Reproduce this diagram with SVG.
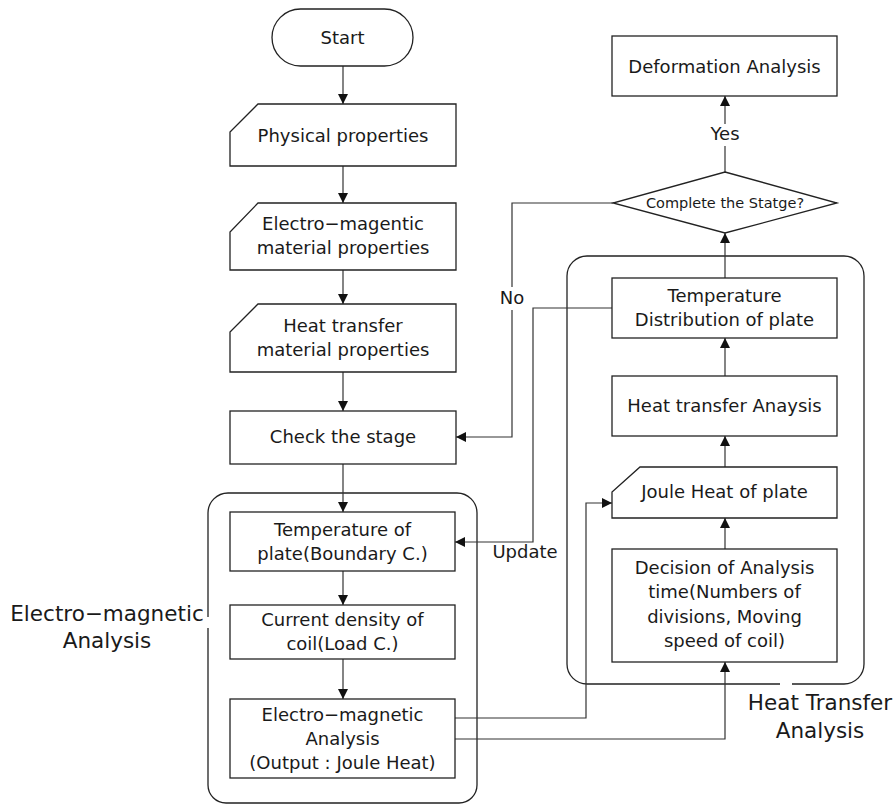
<svg xmlns="http://www.w3.org/2000/svg" width="896" height="805" viewBox="0 0 896 805">
<defs>
<marker id="ah" markerUnits="userSpaceOnUse" markerWidth="10" markerHeight="10" refX="10" refY="5" orient="auto">
<path d="M0,0 L10,5 L0,10 Z" fill="#111"/>
</marker>
<style>
.box{fill:#fff;stroke:#222;stroke-width:1.3}
.grp{fill:none;stroke:#222;stroke-width:1.3}
.ln{fill:none;stroke:#333;stroke-width:1.2}
.arr{marker-end:url(#ah)}
text{font-family:"DejaVu Sans","Liberation Sans",sans-serif;fill:#1a1a1a;text-anchor:middle}
.t{font-size:18px}
.lbl{font-size:21.5px}
.sm{font-size:14.5px}
</style>
</defs>
<rect width="896" height="805" fill="#fff"/>

<g id="group-em">
<path class="grp" d="M208,628 V785 A18,18 0 0 0 226,803 H459 A18,18 0 0 0 477,785 V513 A20,20 0 0 0 457,493 H228 A20,20 0 0 0 208,513 V617"/>
<text class="lbl" x="107" y="621">Electro−magnetic</text>
<text class="lbl" x="107" y="648">Analysis</text>
</g>
<g id="group-heat">
<path class="grp" d="M780,684 H587 A20,20 0 0 1 567,664 V276 A20,20 0 0 1 587,256 H844 A20,20 0 0 1 864,276 V664 A20,20 0 0 1 844,684 H792"/>
<text class="lbl" x="820" y="710">Heat Transfer</text>
<text class="lbl" x="820" y="738">Analysis</text>
</g>

<g id="connectors">
<path class="ln arr" d="M343,66 V104"/>
<path class="ln arr" d="M343,166 V203"/>
<path class="ln arr" d="M343,270 V304"/>
<path class="ln arr" d="M343,372 V411"/>
<path class="ln arr" d="M343,464 V512"/>
<path class="ln arr" d="M343,571 V605"/>
<path class="ln arr" d="M343,659 V699"/>
<path class="ln arr" d="M455,718 H586 V503 H612"/>
<path class="ln arr" d="M455,739 H725 V662"/>
<path class="ln arr" d="M725,549 V518"/>
<path class="ln arr" d="M725,467 V436"/>
<path class="ln arr" d="M725,376 V338"/>
<path class="ln arr" d="M725,278 V233"/>
<path class="ln" d="M725,172 V146"/>
<path class="ln arr" d="M725,124 V96"/>
<text class="t" x="725" y="140">Yes</text>
<path class="ln" d="M613,203 H512 V287"/>
<path class="ln arr" d="M512,310 V437 H456"/>
<text class="t" x="512" y="304">No</text>
<path class="ln arr" d="M612,308 H533 V542 H455"/>
<text class="t" x="525" y="558">Update</text>
</g>

<g id="start">
<rect class="box" x="272" y="9" width="141" height="57" rx="28.5"/>
<text class="t" x="342.5" y="44">Start</text>
</g>
<g id="physical">
<path class="box" d="M258,104 H456 V166 H230 V132 Z"/>
<text class="t" x="343" y="142">Physical properties</text>
</g>
<g id="em-material">
<path class="box" d="M258,203 H456 V270 H230 V232 Z"/>
<text class="t" x="343" y="230">Electro−magentic</text>
<text class="t" x="343" y="254">material properties</text>
</g>
<g id="heat-material">
<path class="box" d="M258,304 H456 V372 H230 V332 Z"/>
<text class="t" x="343" y="332">Heat transfer</text>
<text class="t" x="343" y="356">material properties</text>
</g>
<g id="check">
<rect class="box" x="230" y="411" width="226" height="53"/>
<text class="t" x="343" y="443">Check the stage</text>
</g>
<g id="temp-plate">
<rect class="box" x="230" y="512" width="225" height="59"/>
<text class="t" x="342.5" y="536">Temperature of</text>
<text class="t" x="342.5" y="560">plate(Boundary C.)</text>
</g>
<g id="current">
<rect class="box" x="230" y="605" width="225" height="54"/>
<text class="t" x="342.5" y="626">Current density of</text>
<text class="t" x="342.5" y="650">coil(Load C.)</text>
</g>
<g id="em-analysis">
<rect class="box" x="230" y="699" width="225" height="79"/>
<text class="t" x="342.5" y="721">Electro−magnetic</text>
<text class="t" x="342.5" y="745">Analysis</text>
<text class="t" x="342.5" y="769">(Output : Joule Heat)</text>
</g>
<g id="deformation">
<rect class="box" x="612" y="36" width="225" height="60"/>
<text class="t" x="724.5" y="73">Deformation Analysis</text>
</g>
<g id="decision-stage">
<path class="box" d="M725,172 L837,203 L725,233 L613,203 Z"/>
<text class="sm" x="725" y="208">Complete the Statge?</text>
</g>
<g id="temp-dist">
<rect class="box" x="612" y="278" width="225" height="60"/>
<text class="t" x="724.5" y="302">Temperature</text>
<text class="t" x="724.5" y="326">Distribution of plate</text>
</g>
<g id="heat-analysis">
<rect class="box" x="612" y="376" width="225" height="60"/>
<text class="t" x="724.5" y="412">Heat transfer Anaysis</text>
</g>
<g id="joule">
<path class="box" d="M640,467 H837 V518 H612 V492 Z"/>
<text class="t" x="724.5" y="498">Joule Heat of plate</text>
</g>
<g id="decision-time">
<rect class="box" x="612" y="549" width="225" height="113"/>
<text class="t" x="724.5" y="574">Decision of Analysis</text>
<text class="t" x="724.5" y="598">time(Numbers of</text>
<text class="t" x="724.5" y="623">divisions, Moving</text>
<text class="t" x="724.5" y="647">speed of coil)</text>
</g>
</svg>
